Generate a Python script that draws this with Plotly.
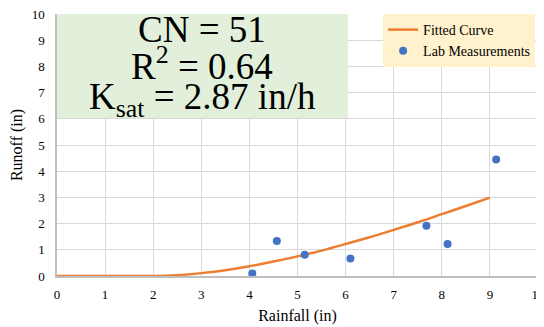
import plotly.graph_objects as go

# Fitted curve
curve_x = [0, 0.5, 1, 1.5, 2, 2.5, 3, 3.5, 4, 4.5, 5, 5.5, 6, 6.5, 7, 7.5, 8, 8.5, 9]
curve_y = [0, 0, 0, 0, 0, 0.03, 0.11, 0.22, 0.37, 0.55, 0.75, 0.97, 1.22, 1.48, 1.76, 2.05, 2.36, 2.67, 2.99]

# Lab measurements
lab_x = [4.06, 4.57, 5.15, 6.10, 7.68, 8.12, 9.13]
lab_y = [0.10, 1.34, 0.81, 0.67, 1.92, 1.22, 4.45]

tick_vals = list(range(0, 11))
stat_lines = ["CN = 51", "R<sup>2</sup> = 0.64", "K<sub>sat</sub> = 2.87 in/h"]

FONT = "Liberation Serif, Times New Roman, serif"

fig = go.Figure()
fig.add_trace(go.Scatter(x=curve_x, y=curve_y, mode="lines", name="Fitted Curve",
                         line=dict(color="#ED7D31", width=2.5, shape="spline")))
fig.add_trace(go.Scatter(x=lab_x, y=lab_y, mode="markers", name="Lab Measurements",
                         marker=dict(color="#4472C4", size=8)))

fig.add_shape(type="rect", xref="paper", yref="paper", x0=0, x1=0.605, y0=0.603, y1=1,
              fillcolor="#E2EFDA", line=dict(width=0), layer="above")

for txt, yp in zip(stat_lines, [29, 63, 99]):
    fig.add_annotation(xref="paper", yref="paper", x=0.302, y=(276 - yp) / 262,
                       text=txt, showarrow=False, xanchor="center", yanchor="middle",
                       font=dict(family=FONT, size=37, color="black"))

# page body has an 8px margin; size the figure so the plot area lands where the reference has it
fig.update_layout(
    width=536, height=319,
    margin=dict(l=49, r=6, t=6, b=51, autoexpand=False),
    paper_bgcolor="white", plot_bgcolor="white",
    font=dict(family=FONT, size=13, color="black"),
    showlegend=True,
    legend=dict(x=0.678, y=1.0, xanchor="left", yanchor="top",
                bgcolor="#FFF2CC", font=dict(family=FONT, size=14, color="black"),
                tracegroupgap=0, itemwidth=30),
    xaxis=dict(range=[0, 10], tickvals=tick_vals, showgrid=True, gridcolor="#D9D9D9",
               gridwidth=1, zeroline=False, showline=True, linecolor="#BFBFBF", linewidth=1.5,
               ticks="", automargin=False, ticklabelstandoff=6, ticklabeloverflow="allow",
               title=dict(text="Rainfall (in)", font=dict(size=16, color="black"), standoff=8),
               tickfont=dict(size=13, color="black")),
    yaxis=dict(range=[0, 10], tickvals=tick_vals, showgrid=True, gridcolor="#D9D9D9",
               gridwidth=1, zeroline=False, showline=True, linecolor="#BFBFBF", linewidth=1.5,
               ticks="", automargin=False, ticklabelstandoff=8, ticklabeloverflow="allow",
               title=dict(text="Runoff (in)", font=dict(size=16, color="black"), standoff=10),
               tickfont=dict(size=13, color="black")),
)

fig.write_html("out.html")
